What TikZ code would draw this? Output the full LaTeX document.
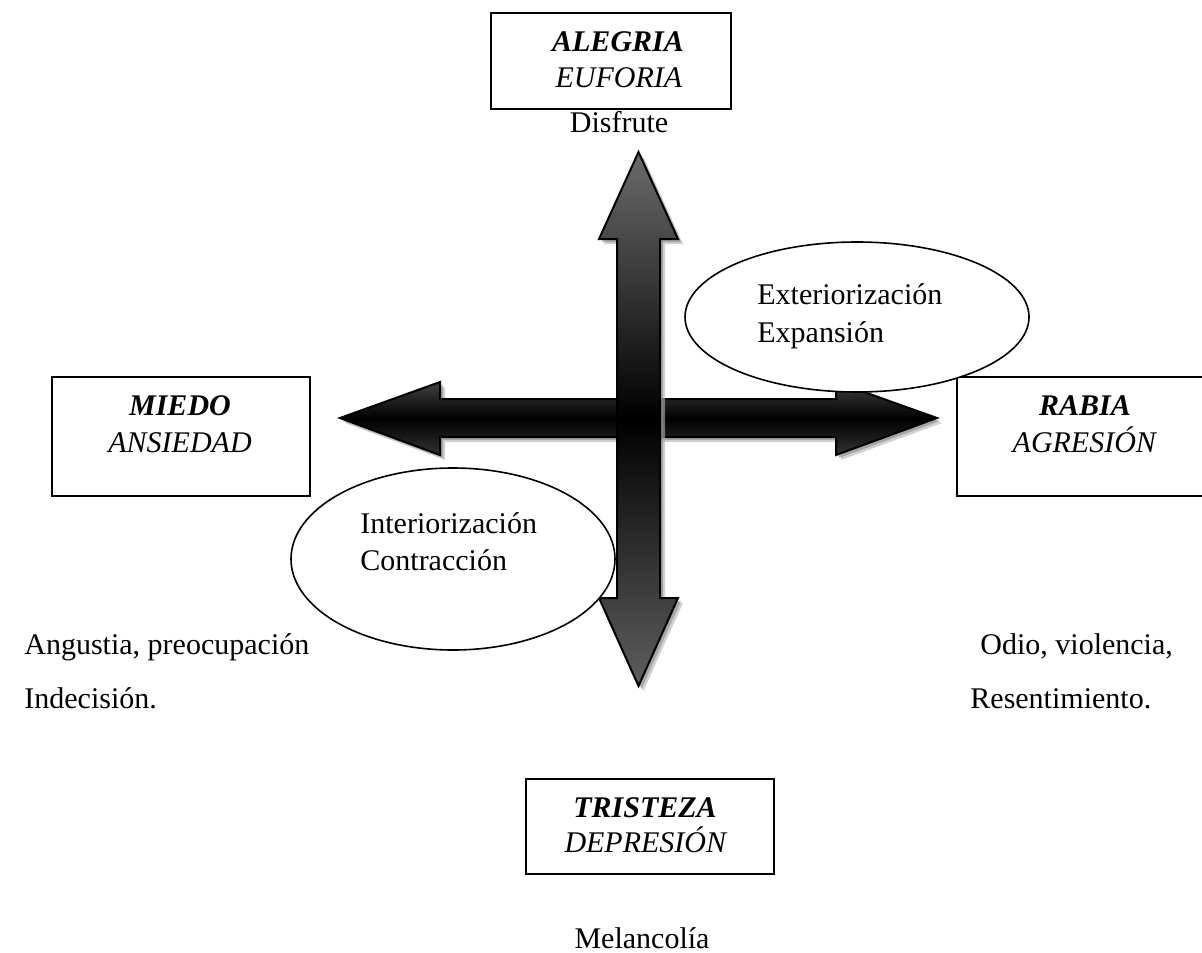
\documentclass[tikz,border=0pt]{standalone}
\usepackage{fontspec}
\setmainfont{Liberation Serif}
\usetikzlibrary{shapes.geometric}
\definecolor{vtop}{gray}{0.42}
\definecolor{vbot}{gray}{0.37}
\begin{document}
\begin{tikzpicture}[x=0.5pt,y=-0.5pt,
  font=\fontsize{15pt}{18pt}\selectfont,
  lbl/.style={inner sep=0pt, anchor=base},
  emobox/.style={draw, line width=1pt, fill=white, inner sep=0pt, anchor=north west},
  bubble/.style={draw, line width=0.8pt, fill=white, ellipse, inner sep=0pt},
  arrowline/.style={draw=black, line width=1pt, line join=miter},
  shadowA/.style={fill=black!30, opacity=0.6},
  shadowB/.style={fill=black!45, opacity=0.6},
]
\useasboundingbox (0,0) rectangle (1202,952);
\clip (0,0) rectangle (1202,952);

% horizontal arrow
\def\harrow{(340,418) -- (440,382) -- (440,399) -- (836,399) -- (836,382) -- (937,418) -- (836,455) -- (836,437) -- (440,437) -- (440,455) -- cycle}
\fill[shadowA, xshift=2.5pt, yshift=-2.5pt] \harrow;
\fill[shadowB, xshift=1.5pt, yshift=-1.5pt] \harrow;
\path[arrowline, top color=black!75, bottom color=black!80, middle color=black] \harrow;

% vertical arrow
\def\varrow{(638.5,152) -- (678,239) -- (660,239) -- (660,598) -- (678,598) -- (638.5,686) -- (599,598) -- (617,598) -- (617,239) -- (599,239) -- cycle}
\fill[shadowA, xshift=2.5pt, yshift=-2.5pt] \varrow;
\fill[shadowB, xshift=1.5pt, yshift=-1.5pt] \varrow;
\path[arrowline, top color=vtop, bottom color=vbot, middle color=black] \varrow;

% boxes
\node[emobox, minimum width=120pt, minimum height=48pt] (topbox) at (490,12) {};
\node[emobox, minimum width=129pt, minimum height=59.5pt] (leftbox) at (51,376) {};
\node[emobox, minimum width=129pt, minimum height=59.5pt] (rightbox) at (956,376) {};
\node[emobox, minimum width=124pt, minimum height=47.5pt] (botbox) at (525,778) {};

% ellipses
\node[bubble, minimum width=172pt, minimum height=75pt] (ext) at (857,317) {};
\node[bubble, minimum width=162pt, minimum height=91pt] (int) at (453,559) {};

% box texts
\node[lbl] (alegria) at (618,52) {\textbf{\textit{ALEGRIA}}};
\node[lbl] (euforia) at (619,88) {\textit{EUFORIA}};
\node[lbl] (miedo) at (180,415) {\textbf{\textit{MIEDO}}};
\node[lbl] (ansiedad) at (180,452) {\textit{ANSIEDAD}};
\node[lbl] (rabia) at (1085,415) {\textbf{\textit{RABIA}}};
\node[lbl] (agresion) at (1085,452) {\textit{AGRESIÓN}};
\node[lbl] (tristeza) at (645,817) {\textbf{\textit{TRISTEZA}}};
\node[lbl] (depresion) at (646,852) {\textit{DEPRESIÓN}};

% ellipse texts
\node[lbl, anchor=base west] (exteri) at (757,304) {Exteriorización};
\node[lbl, anchor=base west] (expans) at (757,342) {Expansión};
\node[lbl, anchor=base west] (interi) at (360,533) {Interiorización};
\node[lbl, anchor=base west] (contra) at (360,570) {Contracción};

% free texts
\node[lbl] (disfrute) at (619,133) {Disfrute};
\node[lbl, anchor=base west] (angustia) at (24,654) {Angustia, preocupación};
\node[lbl, anchor=base west] (indecision) at (24,708) {Indecisión.};
\node[lbl, anchor=base west] (odio) at (980,654) {Odio, violencia,};
\node[lbl, anchor=base west] (resent) at (970,708) {Resentimiento.};
\node[lbl] (melanc) at (642,948) {Melancolía};
\end{tikzpicture}
\end{document}
